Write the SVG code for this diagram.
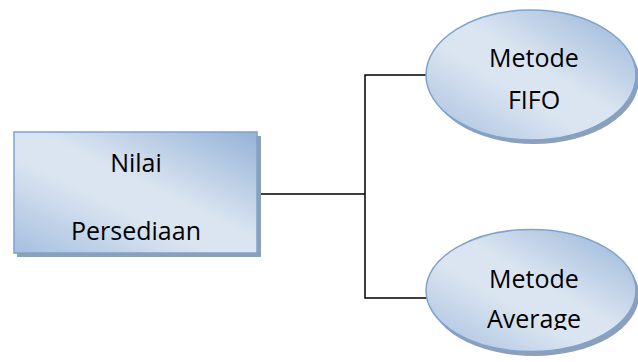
<svg xmlns="http://www.w3.org/2000/svg" width="638" height="362" viewBox="0 0 638 362">
<defs>
<linearGradient id="g" x1="1" y1="0" x2="0" y2="1">
<stop offset="0" stop-color="#95b3d7"/>
<stop offset="0.45" stop-color="#dbe5f1"/>
<stop offset="0.6" stop-color="#dbe5f1"/>
<stop offset="1" stop-color="#a5bfdf"/>
</linearGradient>
<clipPath id="clipAvg"><rect x="0" y="0" width="638" height="330"/></clipPath>
<style>
.shape{fill:url(#g);stroke:#7ea3cf;stroke-width:1.5}
.shadow{fill:#8e9fb8}
.t{font-family:"Open Sans","Liberation Sans",sans-serif;font-size:25px;fill:#000;text-anchor:middle}
.conn{fill:none;stroke:#000;stroke-width:1.5}
</style>
</defs>
<g id="connectors">
<path class="conn" d="M257,194 H365 M427,75 H365 V298 H428"/>
</g>
<g id="nilai-persediaan">
<rect class="shadow" x="17" y="136" width="244" height="121"/>
<rect class="shape" x="14" y="132" width="243" height="121"/>
<text class="t" x="136" y="172">Nilai</text>
<text class="t" x="136" y="240">Persediaan</text>
</g>
<g id="metode-fifo">
<ellipse class="shadow" cx="534" cy="79" rx="105" ry="65"/>
<ellipse class="shape" cx="531" cy="75" rx="105" ry="65"/>
<text class="t" x="534" y="67">Metode</text>
<text class="t" x="534" y="109">FIFO</text>
</g>
<g id="metode-average">
<ellipse class="shadow" cx="534" cy="295" rx="105" ry="61"/>
<ellipse class="shape" cx="531" cy="290.5" rx="105" ry="61"/>
<text class="t" x="534" y="288">Metode</text>
<text class="t" x="534" y="328" clip-path="url(#clipAvg)">Average</text>
</g>
</svg>
